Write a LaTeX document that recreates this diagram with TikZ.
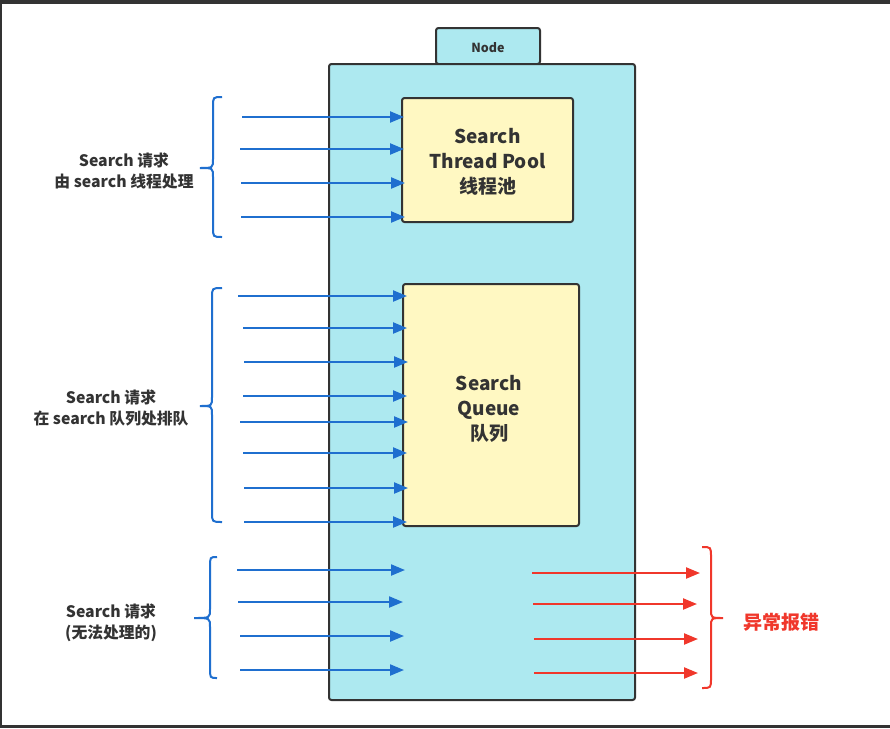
\documentclass[tikz,border=0pt]{standalone}
\usepackage{fontspec}
\setmainfont{Noto Sans CJK SC}
\usetikzlibrary{arrows.meta}
\definecolor{cblue}{HTML}{1F6FCF}
\definecolor{cred}{HTML}{F0372B}
\definecolor{ccyan}{HTML}{ADE9F0}
\definecolor{cyel}{HTML}{FFF8C2}
\definecolor{cline}{HTML}{333333}
\definecolor{ctext}{HTML}{333333}
\newcommand\curlyb[7]{%
\draw[#1] (#2,#5) .. controls (#3,#5) .. (#3,{#5+10}) -- (#3,{#6-9}) .. controls (#3,#6) .. (#4,#6) .. controls (#3,#6) .. (#3,{#6+9}) -- (#3,{#7-10}) .. controls (#3,#7) .. (#2,#7);}
\tikzset{
  boxstyle/.style={draw=cline, line width=2pt, rounded corners=2.5pt, inner sep=0pt},
  outerbox/.style={boxstyle, fill=ccyan},
  innerbox/.style={boxstyle, fill=cyel},
  boxtext/.style={text=ctext, font=\bfseries\fontsize{19}{25}\selectfont, align=center},
  lbl/.style={text=ctext, font=\bfseries\fontsize{15.8}{21}\selectfont, align=center},
  barrow/.style={draw=cblue, line width=2.2pt, -{Triangle[length=14pt,width=11pt]}},
  rarrow/.style={draw=cred, line width=2.2pt, -{Triangle[length=14pt,width=11pt]}},
  bbrace/.style={draw=cblue, line width=2pt},
  rbrace/.style={draw=cred, line width=2pt},
}
\begin{document}
\begin{tikzpicture}[x=1pt,y=-1pt]
\useasboundingbox (0,0) rectangle (890,728);
\fill[white] (0,0) rectangle (890,728);
% frame
\fill[cline] (0,0) rectangle (890,4);
\fill[cline] (0,725) rectangle (890,728);
\fill[cline] (0,0) rectangle (1.5,728);
% node tab and outer box
\node[outerbox, minimum width=104pt, minimum height=36pt] (tab) at (488,46) {};
\node[text=ctext, font=\bfseries\fontsize{12.5}{14}\selectfont] (tablbl) at (488,48) {Node};
\node[outerbox, minimum width=306pt, minimum height=636pt] (outer) at (482,382) {};
% inner boxes
\node[innerbox, minimum width=171pt, minimum height=124pt] (pool) at (487.5,160) {};
\node[boxtext] (pooltxt) at (487.5,162) {Search\\Thread Pool\\线程池};
\node[innerbox, minimum width=176pt, minimum height=242pt] (queue) at (491,405) {};
\node[boxtext] (queuetxt) at (489,409) {Search\\Queue\\队列};
% labels
\node[lbl] (l1) at (124,170.5) {Search 请求\\由 search 线程处理};
\node[lbl] (l2) at (111,408) {Search 请求\\在 search 队列处排队};
\node[lbl] (l3) at (111,623) {Search 请求\\(无法处理的)};
\node[text=cred, font=\bfseries\fontsize{19}{23}\selectfont] (err) at (781,622) {异常报错};
% braces
\curlyb{bbrace}{222}{213}{200}{97}{168}{237}
\curlyb{bbrace}{222}{212}{200}{288}{406}{522}
\curlyb{bbrace}{217}{210}{194}{557}{618}{678}
\curlyb{rbrace}{702}{711}{723}{547}{618}{688}
% blue arrows
\foreach \i/\y/\xs/\xe in {1/117/242/404, 2/149/240/404, 3/183/241/405, 4/217/241/405,
  5/296/238/407, 6/328/243/407, 7/362/244/408, 8/396/243/407, 9/422/240/408, 10/453/243/407, 11/488/244/408, 12/522/244/407,
  13/570/237/405, 14/602/238/403, 15/636/240/404, 16/670/240/404} {
  \coordinate (bs\i) at (\xs,\y);
  \coordinate (be\i) at (\xe,\y);
  \draw[barrow] (bs\i) -- (be\i);
}
% red arrows
\foreach \i/\y/\xs/\xe in {1/573/532/700, 2/604/533/697, 3/639/534/698, 4/673/534/698} {
  \coordinate (rs\i) at (\xs,\y);
  \coordinate (re\i) at (\xe,\y);
  \draw[rarrow] (rs\i) -- (re\i);
}
\end{tikzpicture}
\end{document}
